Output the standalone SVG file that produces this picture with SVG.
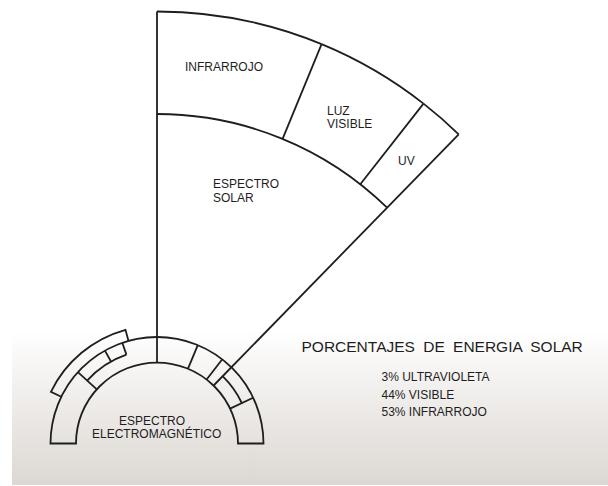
<svg xmlns="http://www.w3.org/2000/svg" width="608" height="486" viewBox="0 0 608 486">
  <defs>
    <linearGradient id="bg" gradientUnits="userSpaceOnUse" x1="0" y1="0" x2="0" y2="486">
      <stop offset="0" stop-color="#ffffff"/>
      <stop offset="0.68" stop-color="#ffffff"/>
      <stop offset="0.86" stop-color="#ebe8e5"/>
      <stop offset="1" stop-color="#dcd7d2"/>
    </linearGradient>
  </defs>
  <style>
    .ln { fill: none; stroke: #1e1e1e; stroke-width: 1.8; stroke-linejoin: miter; stroke-linecap: butt; }
    .t { font-family: "Liberation Sans", Arial, sans-serif; font-size: 12px; fill: #1e1e1e; }
    .title { font-family: "Liberation Sans", Arial, sans-serif; font-size: 15.5px; fill: #1e1e1e; word-spacing: 4px; }
  </style>
  <rect x="0" y="0" width="608" height="486" fill="#ffffff"/>
  <rect x="12" y="0" width="596" height="485" fill="url(#bg)"/>

  <g id="connectors">
    <path class="ln" d="M157,11.5 V362"/>
    <path class="ln" d="M458.7,134.3 L213.6,385.5"/>
  </g>

  <g id="espectro-solar">
    <path class="ln" d="M157,114 A329.5,329.5 0 0 1 387.1,207.7"/>
    <text class="t" x="213" y="188">ESPECTRO</text>
    <text class="t" x="213" y="201.5">SOLAR</text>
  </g>

  <g id="infrarrojo">
    <path class="ln" d="M157,11.5 A432,432 0 0 1 321.6,44.1"/>
    <path class="ln" d="M321.6,44.1 L282.6,138.9"/>
    <text class="t" x="185" y="71">INFRARROJO</text>
  </g>

  <g id="luz-visible">
    <path class="ln" d="M321.6,44.1 A432,432 0 0 1 423.5,103.6"/>
    <path class="ln" d="M423.5,103.6 L360.3,184.2"/>
    <text class="t" x="327" y="114.5">LUZ</text>
    <text class="t" x="327" y="128">VISIBLE</text>
  </g>

  <g id="uv">
    <path class="ln" d="M423.5,103.6 A432,432 0 0 1 458.7,134.3"/>
    <text class="t" x="398" y="164.5">UV</text>
  </g>

  <g id="espectro-electromagnetico">
    <path class="ln" d="M50.5,443.5 A106.5,106.5 0 0 1 263.5,443.5 H238 A81,81 0 0 0 76,443.5 Z"/>
    <path class="ln" d="M188,368.7 L197.8,345.1"/>
    <path class="ln" d="M206.6,379.5 L222.3,359.3"/>
    <path class="ln" d="M230.1,408.6 L253.1,397.7"/>
    <path class="ln" d="M96.8,389.3 L77.9,372.2"/>
    <path class="ln" d="M222.6,376.2 A94,94 0 0 1 241.8,403"/>
    <path class="ln" d="M87.1,380.6 A94,94 0 0 1 126.4,354.6"/>
    <path class="ln" d="M111,361.5 L104.9,350.6"/>
    <path class="ln" d="M126.4,354.6 L122.3,342.8"/>
    <path class="ln" d="M61.3,396.8 L50.9,391.8 A118,118 0 0 1 125.5,329.8 L128.5,340.9"/>
    <text class="t" x="119" y="424.5">ESPECTRO</text>
    <text class="t" x="92" y="438">ELECTROMAGNÉTICO</text>
  </g>

  <g id="porcentajes">
    <text class="title" x="301.5" y="352">PORCENTAJES DE ENERGIA SOLAR</text>
    <text class="t" x="381.5" y="381">3% ULTRAVIOLETA</text>
    <text class="t" x="381.5" y="399">44% VISIBLE</text>
    <text class="t" x="381.5" y="416">53% INFRARROJO</text>
  </g>
</svg>
